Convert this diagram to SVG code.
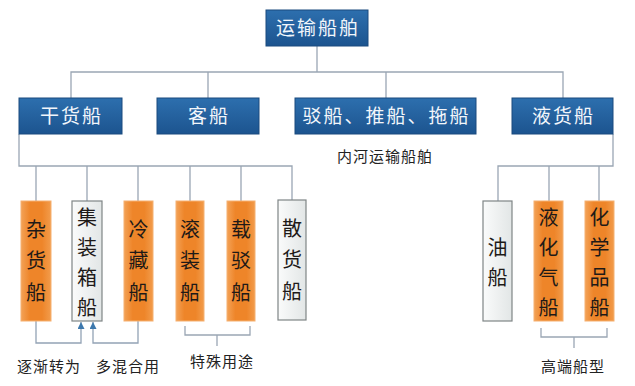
<svg xmlns="http://www.w3.org/2000/svg" width="635" height="386" viewBox="0 0 635 386">
<defs>
<linearGradient id="gBlue" x1="0" y1="0" x2="0" y2="1">
<stop offset="0" stop-color="#2d6fae"/>
<stop offset="1" stop-color="#1c548f"/>
</linearGradient>
<linearGradient id="gOrange" x1="0" y1="0" x2="1" y2="0">
<stop offset="0" stop-color="#f3a257"/>
<stop offset="0.3" stop-color="#ee8529"/>
<stop offset="0.7" stop-color="#ee8529"/>
<stop offset="1" stop-color="#f29c4c"/>
</linearGradient>
<linearGradient id="gGrey" x1="0" y1="0" x2="1" y2="0">
<stop offset="0" stop-color="#fafbfb"/>
<stop offset="1" stop-color="#e2e6e6"/>
</linearGradient>
<marker id="arr" viewBox="0 0 10 10" refX="10" refY="5" markerWidth="7" markerHeight="7" orient="auto" markerUnits="userSpaceOnUse">
<path d="M0,0 L10,5 L0,10 Z" fill="#3d78ad"/>
</marker>
<style>
.blue{fill:url(#gBlue);stroke:#1a4b7e;stroke-width:1}
.orange{fill:url(#gOrange);stroke:#f5b070;stroke-width:1}
.grey{fill:url(#gGrey);stroke:#7f8586;stroke-width:1.2}
.wt{font-family:"Noto Sans CJK SC","Noto Sans",sans-serif;font-size:19px;fill:#f2f6fb;text-anchor:middle;letter-spacing:2px}
.vt{font-family:"Noto Sans CJK SC","Noto Sans",sans-serif;font-size:20px;fill:#1e1a18;text-anchor:middle}
.lb{font-family:"Noto Sans CJK SC","Noto Sans",sans-serif;font-size:15px;fill:#222;text-anchor:middle;letter-spacing:1px}
.ln{fill:none;stroke:#9aa6b4;stroke-width:1.3}
.la{fill:none;stroke:#93a3b5;stroke-width:1.3}
</style>
</defs>
<g id="connectors">
<path class="ln" d="M317,46 V72 M71,98 V72 H563 V98 M208,72 V98 M386,72 V98"/>
<path class="ln" d="M19,134 V166 H292 V201 M36,166 V201 M87,166 V201 M138,166 V201 M190,166 V201 M241,166 V201"/>
<path class="ln" d="M613,134 V166 H498 V201 M549,166 V201 M599,166 V201"/>
<path class="la" d="M36,321 V343 H81 V322" marker-end="url(#arr)"/>
<path class="la" d="M138,321 V343 H93 V322" marker-end="url(#arr)"/>
<path class="ln" d="M185,326 V335 H250 V326 M217,335 V346"/>
<path class="ln" d="M541,328 V337 H607 V328 M574,337 V348"/>
</g>
<g id="n-root"><rect class="blue" x="266" y="10" width="102" height="36"/><text class="wt" x="318" y="35">运输船舶</text></g>
<g id="n-gan"><rect class="blue" x="19" y="98" width="103" height="36"/><text class="wt" x="71.5" y="123">干货船</text></g>
<g id="n-ke"><rect class="blue" x="157" y="98" width="102" height="36"/><text class="wt" x="209" y="123">客船</text></g>
<g id="n-bo"><rect class="blue" x="295" y="98" width="181" height="36"/><text class="wt" x="386.5" y="123">驳船、推船、拖船</text></g>
<g id="n-ye"><rect class="blue" x="512" y="98" width="101" height="36"/><text class="wt" x="563.5" y="123">液货船</text></g>
<g id="t-neihe"><text class="lb" x="385" y="162">内河运输船舶</text></g>
<g id="n-za"><rect class="orange" x="21" y="201" width="30" height="120"/><text class="vt" x="36"><tspan x="36" y="237">杂</tspan><tspan x="36" y="268">货</tspan><tspan x="36" y="300">船</tspan></text></g>
<g id="n-ji"><rect class="grey" x="72" y="201" width="30" height="120"/><text class="vt" x="87"><tspan x="87" y="225">集</tspan><tspan x="87" y="255">装</tspan><tspan x="87" y="285">箱</tspan><tspan x="87" y="315">船</tspan></text></g>
<g id="n-leng"><rect class="orange" x="124" y="201" width="29" height="120"/><text class="vt"><tspan x="138.5" y="237">冷</tspan><tspan x="138.5" y="268">藏</tspan><tspan x="138.5" y="300">船</tspan></text></g>
<g id="n-gun"><rect class="orange" x="176" y="201" width="28" height="120"/><text class="vt"><tspan x="190" y="237">滚</tspan><tspan x="190" y="268">装</tspan><tspan x="190" y="300">船</tspan></text></g>
<g id="n-zai"><rect class="orange" x="227" y="201" width="28" height="120"/><text class="vt"><tspan x="241" y="237">载</tspan><tspan x="241" y="268">驳</tspan><tspan x="241" y="300">船</tspan></text></g>
<g id="n-san"><rect class="grey" x="278" y="200" width="28" height="120"/><text class="vt"><tspan x="292" y="236">散</tspan><tspan x="292" y="267">货</tspan><tspan x="292" y="299">船</tspan></text></g>
<g id="n-you"><rect class="grey" x="483" y="201" width="29" height="120"/><text class="vt"><tspan x="497.5" y="255">油</tspan><tspan x="497.5" y="285">船</tspan></text></g>
<g id="n-yehua"><rect class="orange" x="534" y="201" width="29" height="120"/><text class="vt"><tspan x="548.5" y="225">液</tspan><tspan x="548.5" y="255">化</tspan><tspan x="548.5" y="285">气</tspan><tspan x="548.5" y="315">船</tspan></text></g>
<g id="n-hua"><rect class="orange" x="585" y="201" width="29" height="120"/><text class="vt"><tspan x="599.5" y="225">化</tspan><tspan x="599.5" y="255">学</tspan><tspan x="599.5" y="285">品</tspan><tspan x="599.5" y="315">船</tspan></text></g>
<g id="labels">
<text class="lb" x="49" y="372">逐渐转为</text>
<text class="lb" x="128" y="372">多混合用</text>
<text class="lb" x="222" y="367">特殊用途</text>
<text class="lb" x="573" y="372">高端船型</text>
</g>
</svg>
